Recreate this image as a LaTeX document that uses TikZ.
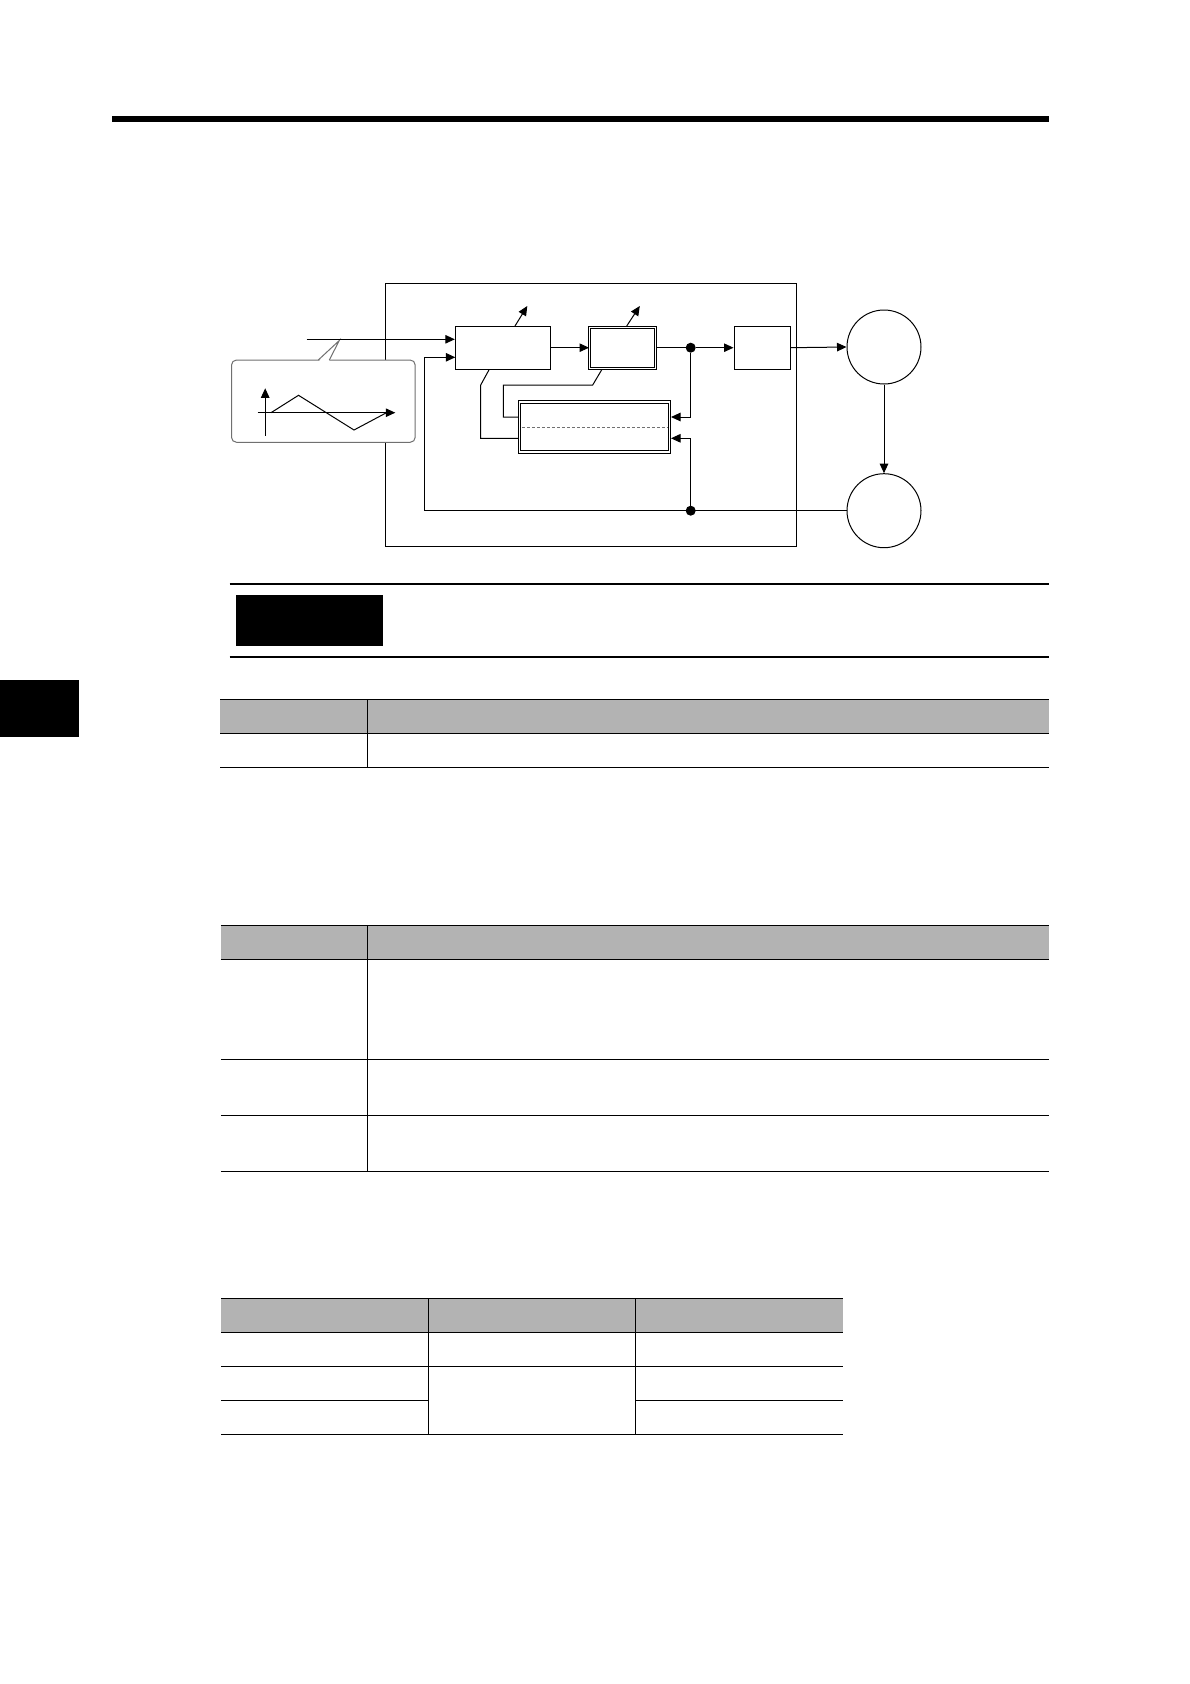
\documentclass[tikz,border=0pt]{standalone}
\usetikzlibrary{arrows.meta}
\definecolor{hdrgray}{HTML}{B3B3B3}
\definecolor{callgray}{HTML}{707070}
\tikzset{
  ln/.style={line width=1pt, black},
  arr/.style={ln, -{Triangle[length=9.5pt,width=8.5pt]}},
  blk/.style={draw, ln, rectangle, inner sep=0pt},
  dblk/.style={draw, ln, double, double distance=1.3pt, rectangle, inner sep=0pt},
  junc/.style={circle, fill=black, inner sep=0pt, minimum size=10pt},
  motor/.style={draw, ln, circle, inner sep=0pt, minimum size=74pt},
  tline/.style={line width=1pt, black},
  thick2/.style={line width=2pt, black}
}
\begin{document}
\begin{tikzpicture}[x=1pt,y=-1pt]
\useasboundingbox (0,0) rectangle (1190,1684);
% header bar
\fill (112.3,116) rectangle (1049,122);
% side tab
\fill (0,680) rectangle (79,736.7);

% outer frame
\draw[ln] (385,283.5) rectangle (796,546);

% blocks
\node[blk, minimum width=95pt, minimum height=43.3pt] (A) at (502.8,347.7) {};
\node[dblk, minimum width=66pt, minimum height=41pt] (B) at (622.5,347.7) {};
\node[blk, minimum width=56pt, minimum height=43.3pt] (C) at (762,347.7) {};
\node[dblk, minimum width=150pt, minimum height=50pt] (D) at (594.8,427) {};
\draw[ln, dashed, callgray, dash pattern=on 3pt off 2pt] (D.west) ++(2.5,0) -- ([xshift=-2.5pt]D.east);
\node[junc] (d1) at (690.7,347.7) {};
\node[junc] (d2) at (690.7,510.7) {};
\node[motor] (M1) at (884,347) {};
\node[motor] (M2) at (884,510.7) {};

% callout
\draw[callgray, line width=1pt, fill=white, rounded corners=5pt] (231.5,360) rectangle (415.2,442.3);
\fill[white] (319,361) -- (339.3,340.5) -- (329,361) -- cycle;
\draw[callgray, line width=1pt] (318.3,360) -- (339.3,340.5) -- (329.3,360);
% callout graph
\coordinate (yb) at (265.2,435.7);
\coordinate (yt) at (265.2,388.3);
\coordinate (xl) at (257.5,412.7);
\coordinate (xr) at (395.3,412.7);
\draw[arr] (yb) -- (yt);
\draw[arr] (xl) -- (xr);
\draw[ln] (271,412.7) -- (298.5,395.3) -- (354,430) -- (386.5,412.7);

% connectors
\coordinate (inS) at (306.7,339.3);
\draw[arr] (inS) -- (inS -| A.west);
\draw[arr] (A.east) -- (B.west);
\draw[ln] (B.east) -- (d1);
\draw[arr] (d1) -- (C.west);
\draw[arr] (C.east) -- (M1.west);
\draw[arr] (M1.south) -- (M2.north);
\coordinate (fbL) at (424.7,510.7);
\coordinate (aIn2) at (455.3,357.3);
\draw[arr] (M2.west) -- (fbL) |- (aIn2);
\coordinate (dR1) at (671,417);
\coordinate (dR2) at (671,438.3);
\draw[arr] (d1) |- (dR1);
\draw[arr] (d2) |- (dR2);
% A/B outputs up
\coordinate (aUp) at (527.3,306);
\coordinate (bUp) at (639.8,306);
\draw[arr] (515,326) -- (aUp);
\draw[arr] (626.7,326) -- (bUp);
% from A bottom to D left (lower)
\coordinate (dL2) at (518.5,438.3);
\draw[ln] (489.3,369.3) -- (480.7,385) |- (dL2);
% from B bottom to D left (upper)
\coordinate (dL1) at (518.5,417);
\draw[ln] (602,369.3) -- (592.7,385) -- (503.3,385) |- (dL1);

% section header
\draw[thick2] (229.6,584) -- (1048.6,584);
\draw[thick2] (229.6,656.7) -- (1048.6,656.7);
\fill (236,595) rectangle (383.4,646);

% table 1
\fill[hdrgray] (220,699) rectangle (1048.6,733);
\draw[tline] (220,699) -- (1048.6,699);
\draw[tline] (220,733) -- (1048.6,733);
\draw[tline] (220,767.3) -- (1048.6,767.3);
\draw[tline] (367.8,699) -- (367.8,767.3);

% table 2
\fill[hdrgray] (220.8,925.7) rectangle (1048.5,959);
\draw[tline] (220.8,925.7) -- (1048.5,925.7);
\draw[tline] (220.8,959) -- (1048.5,959);
\draw[tline] (220.8,1059.3) -- (1048.5,1059.3);
\draw[tline] (220.8,1115.3) -- (1048.5,1115.3);
\draw[tline] (220.8,1171) -- (1048.5,1171);
\draw[tline] (367.7,925.7) -- (367.7,1171);

% table 3
\fill[hdrgray] (221.2,1298.3) rectangle (843,1332.3);
\draw[tline] (221.2,1298.3) -- (843,1298.3);
\draw[tline] (221.2,1332.3) -- (843,1332.3);
\draw[tline] (221.2,1366.3) -- (843,1366.3);
\draw[tline] (221.2,1400.3) -- (428.5,1400.3);
\draw[tline] (635.4,1400.3) -- (843,1400.3);
\draw[tline] (221.2,1434.3) -- (843,1434.3);
\draw[tline] (428.5,1298.3) -- (428.5,1434.3);
\draw[tline] (635.4,1298.3) -- (635.4,1434.3);
\end{tikzpicture}
\end{document}
